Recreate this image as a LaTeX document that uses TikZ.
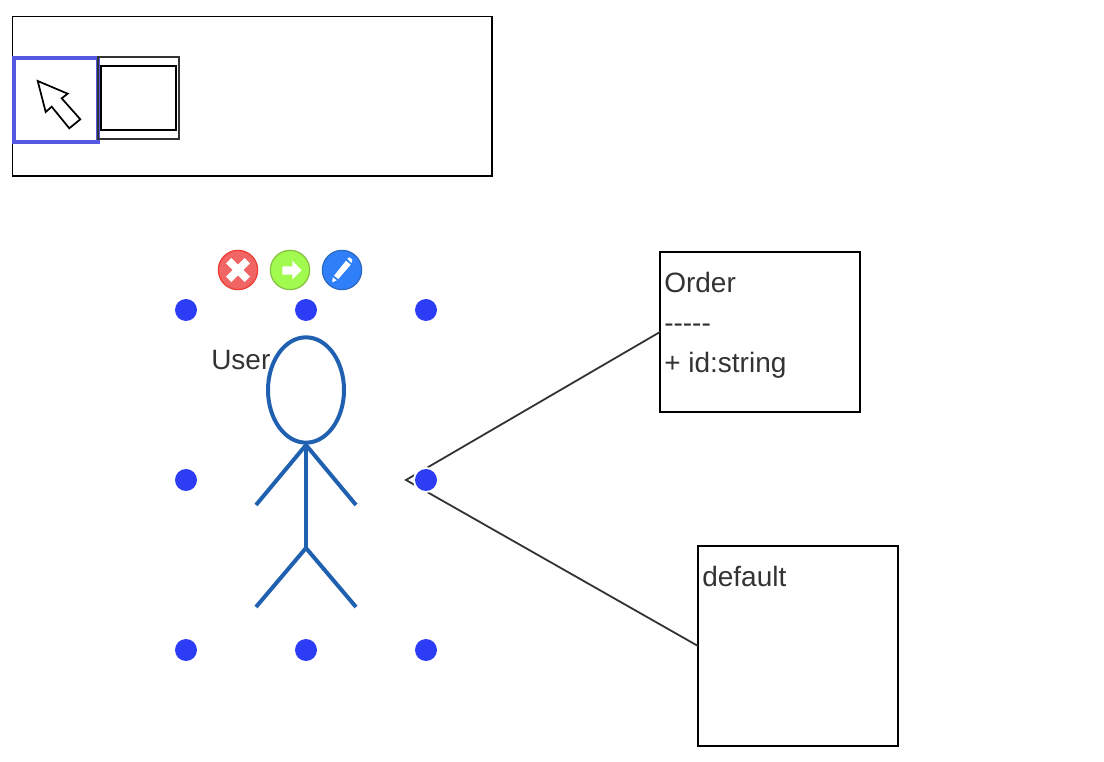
\documentclass[tikz,border=0pt]{standalone}
\usetikzlibrary{shapes.geometric}
\usepackage{fontspec}
\setmainfont{Liberation Sans}
\definecolor{ink}{HTML}{333333}
\definecolor{actorblue}{HTML}{2060B0}
\definecolor{dotblue}{HTML}{2D3DF5}
\definecolor{toolblue}{HTML}{5558E3}
\definecolor{delfill}{HTML}{F16665}
\definecolor{deldraw}{HTML}{EE3B30}
\definecolor{gofill}{HTML}{A0FB4E}
\definecolor{godraw}{HTML}{86BF45}
\definecolor{editfill}{HTML}{2F80F8}
\definecolor{editdraw}{HTML}{2A68C0}
\tikzset{
  px/.style={x=0.75pt,y=-0.75pt},
  panel/.style={draw=black,line width=1.1pt,fill=white,inner sep=0pt,outer sep=0pt,anchor=north west},
  boxtext/.style={inner sep=0pt,anchor=north west,align=left,text=ink,font=\fontsize{21}{30}\selectfont},
  actorline/.style={draw=actorblue,line width=3pt},
  edgeline/.style={draw=ink,line width=1.35pt},
  halo/.style={circle,fill=white,minimum size=19.5pt,inner sep=0pt},
  handle/.style={circle,fill=dotblue,minimum size=16.5pt,inner sep=0pt},
  iconbtn/.style={circle,line width=0.9pt,minimum size=29.5pt,inner sep=0pt},
}
\begin{document}
\begin{tikzpicture}[px]
\useasboundingbox (0,0) rectangle (1104,762);
% toolbar
\node[panel,minimum width=359.6pt,minimum height=119.6pt] (toolbar) at (12.5,16.5) {};
\node[draw=toolblue,line width=2.8pt,minimum width=62.8pt,minimum height=63pt,inner sep=0pt] (pointer) at (56,100) {};
\node[draw=ink,line width=1.5pt,minimum width=60.5pt,minimum height=61pt,inner sep=0pt] (toolcell) at (138.5,98) {};
\node[draw=black,line width=1.5pt,minimum width=56.5pt,minimum height=48pt,inner sep=0pt] (toolshape) at (138.25,98) {};
\draw[black,line width=1.3pt,line join=miter] (37.7,81) -- (67.7,93.7) -- (61.7,98.3) -- (80.3,119.3) -- (69.3,128.3) -- (51.7,106.7) -- (45.7,112) -- cycle;
% boxes
\node[panel,minimum width=150pt,minimum height=120pt] (order) at (660,252) {};
\node[panel,minimum width=150pt,minimum height=150pt] (default) at (698,546) {};
\node[boxtext] (ordertext) at (664,272) {Order\\-{}-{}-{}-{}-\\+ id:string};
\node[boxtext] (defaulttext) at (702,566) {default};
% connectors
\coordinate (tip) at (406,480);
\draw[edgeline] (order.west) -- (tip) -- (default.west);
% actor
\node[draw=actorblue,line width=3pt,ellipse,minimum width=57pt,minimum height=79pt,inner sep=0pt] (head) at (306,390) {};
\coordinate (neck) at (306,445);
\coordinate (hip) at (306,548);
\coordinate (handl) at (256,505);
\coordinate (handr) at (356,505);
\coordinate (footl) at (256,607);
\coordinate (footr) at (356,607);
\draw[actorline] (head.south) -- (hip);
\draw[actorline] (handl) -- (neck) -- (handr);
\draw[actorline] (footl) -- (hip) -- (footr);
\node[inner sep=0pt,anchor=base west,text=ink,font=\fontsize{21}{25}\selectfont] (userlabel) at (211,370) {User};
% handles
\node[halo] (hhalo) at (426,480) {};
\foreach \n/\x/\y in {a/186/310,b/306/310,c/426/310,d/186/480,e/426/480,f/186/650,g/306/650,h/426/650}
  \node[handle] (\n) at (\x,\y) {};
% icons
\node[iconbtn,draw=deldraw,fill=delfill] (del) at (238,270) {};
\draw[white,line width=5.6pt] (228.7,260.7) -- (247.3,279.3) (247.3,260.7) -- (228.7,279.3);
\node[iconbtn,draw=godraw,fill=gofill] (go) at (290,270) {};
\fill[white] (282.3,266.3) -- (292.3,266.3) -- (292.3,260.7) -- (301.7,270.3) -- (292.3,279.7) -- (292.3,274.7) -- (282.3,274.7) -- cycle;
\node[iconbtn,draw=editdraw,fill=editfill] (edit) at (342,270) {};
\fill[white] (332.3,282.3) -- (332.7,277.3) -- (336.7,280.3) -- cycle;
\fill[white] (334,275.7) -- (346,260.7) -- (350.7,264.7) -- (338.3,279) -- cycle;
\fill[white] (347.3,258.7) -- (349.3,257.3) -- (352,259.3) -- (352,261.5) -- (351.3,263) -- cycle;
\end{tikzpicture}
\end{document}
